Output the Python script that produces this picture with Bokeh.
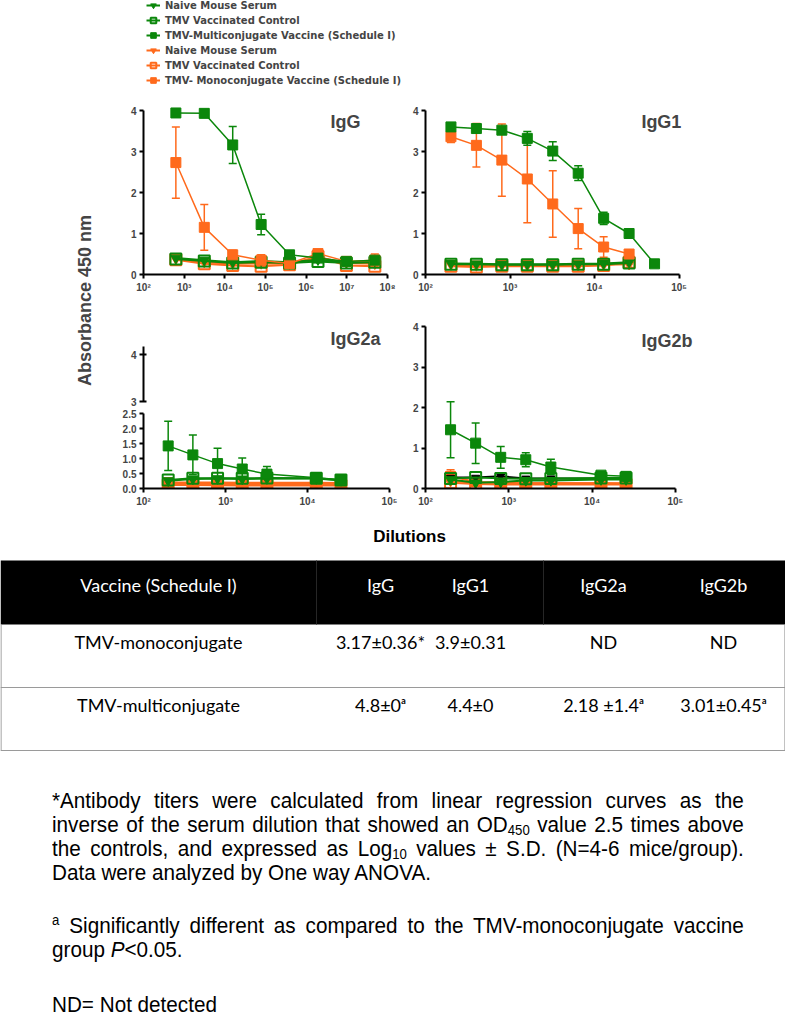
from math import pi, log10
from bokeh.plotting import figure
from bokeh.models import (ColumnDataSource, Range1d, FixedTicker, Whisker, TeeHead, Legend,
                          LegendItem, Label, Div, CustomJSTickFormatter, PrintfTickFormatter)
from bokeh.layouts import column, row
from bokeh.embed import file_html
from bokeh.resources import INLINE
from bokeh.core.properties import value

GREEN = "#0B870B"
ORANGE = "#FF6A1C"
BLACK = "#000000"
AXF = "Liberation Sans"
TABF = "Lato"
NAN = float("nan")

# ---------------- data ----------------
# IgG (5-fold dilutions)
igg_dil = [625, 3125, 15625, 78125, 390625, 1953125, 9765625, 48828125]
igg_multi = [3.94, 3.93, 3.16, 1.22, 0.48, 0.40, 0.32, 0.35]
igg_multi_sd = [0.02, 0.02, 0.45, 0.25, 0.06, 0.05, 0.05, 0.06]
igg_mono = [2.73, 1.15, 0.48, 0.35, 0.27, 0.51, 0.32, 0.35]
igg_mono_sd = [0.87, 0.56, 0.11, 0.13, 0.05, 0.10, 0.06, 0.15]
igg_multi_naive = [0.40, 0.35, 0.30, 0.33, 0.30, 0.36, 0.30, 0.33]
igg_multi_tmv = [0.38, 0.33, 0.28, 0.30, 0.28, 0.32, 0.28, 0.30]
igg_mono_naive = [0.38, 0.30, 0.26, 0.27, 0.26, 0.42, 0.28, 0.26]
igg_mono_tmv = [0.36, 0.26, 0.22, 0.20, 0.24, 0.44, 0.22, 0.20]

# IgG1 (2-fold dilutions)
igg1_dil = [200, 400, 800, 1600, 3200, 6400, 12800, 25600, 51200]
igg1_multi = [3.60, 3.56, 3.52, 3.32, 3.01, 2.47, 1.37, 1.00, 0.26]
igg1_multi_sd = [0.03, 0.04, 0.08, 0.17, 0.23, 0.18, 0.15, 0.05, 0.03]
igg1_mono = [3.36, 3.15, 2.79, 2.33, 1.72, 1.12, 0.67, 0.50]
igg1_mono_sd = [0.14, 0.53, 0.88, 1.07, 0.81, 0.49, 0.25, 0.10]
igg1_multi_naive = [0.27, 0.26, 0.25, 0.25, 0.25, 0.26, 0.27, 0.30]
igg1_multi_tmv = [0.25, 0.25, 0.24, 0.24, 0.24, 0.25, 0.25, 0.28]
igg1_mono_naive = [0.24, 0.22, 0.22, 0.22, 0.22, 0.22, 0.24, 0.25]
igg1_mono_tmv = [0.20, 0.18, 0.20, 0.20, 0.20, 0.20, 0.22, 0.30]

# IgG2a / IgG2b
igg2_dil = [200, 400, 800, 1600, 3200, 12800, 25600]
igg2a_multi = [1.42, 1.12, 0.83, 0.65, 0.48, 0.36, 0.29]
igg2a_multi_sd = [0.82, 0.66, 0.51, 0.37, 0.25, 0.04, 0.03]
igg2a_multi_naive = [0.26, 0.32, 0.33, 0.32, 0.33, 0.33, 0.27]
igg2a_multi_tmv = [0.28, 0.34, 0.34, 0.34, 0.35, 0.34, 0.28]
igg2a_mono = [0.20, 0.20, 0.20, 0.19, 0.19, 0.19, 0.18]
igg2a_mono_naive = [0.17, 0.16, 0.15, 0.15, 0.15, 0.15, 0.15]
igg2a_mono_tmv = [0.12, 0.12, 0.11, 0.10, 0.10, 0.10, 0.10]

igg2b_multi = [1.45, 1.12, 0.77, 0.71, 0.53, 0.33, 0.30]
igg2b_multi_sd = [0.69, 0.50, 0.27, 0.17, 0.19, 0.05, 0.04]
igg2b_multi_naive = [0.22, 0.14, 0.16, 0.20, 0.20, 0.22, 0.22]
igg2b_multi_tmv = [0.25, 0.27, 0.25, 0.24, 0.25, 0.26, 0.26]
igg2b_mono = [0.30, 0.16, 0.14, 0.13, 0.13, 0.13, 0.12]
igg2b_mono_sd = [0.16, 0.03, 0.03, 0.03, 0.03, 0.02, 0.02]
igg2b_mono_naive = [0.18, 0.15, 0.14, 0.13, 0.13, 0.13, 0.13]
igg2b_mono_tmv = [0.14, 0.11, 0.10, 0.10, 0.10, 0.10, 0.10]
igg2b_other = [0.27, 0.27, 0.30, 0.25, 0.25, 0.24, 0.24]

legend_labels = ["Naive Mouse Serum", "TMV Vaccinated Control",
                 "TMV-Multiconjugate Vaccine (Schedule I)",
                 "Naive Mouse Serum", "TMV Vaccinated Control",
                 "TMV- Monoconjugate Vaccine (Schedule I)"]

table_head = ["Vaccine (Schedule I)", "IgG", "IgG1", "IgG2a", "IgG2b"]
table_mono = ["TMV-monoconjugate", "3.17\u00b10.36*", "3.9\u00b10.31", "ND", "ND"]
table_multi = ["TMV-multiconjugate", "4.8\u00b10\u1d43", "4.4\u00b10", "2.18 \u00b11.4\u1d43", "3.01\u00b10.45\u1d43"]

# ---------------- helpers ----------------
SUP = CustomJSTickFormatter(code="""
const s = {"0":"\u2070","1":"\u00b9","2":"\u00b2","3":"\u00b3","4":"\u2074","5":"\u2075","6":"\u2076","7":"\u2077","8":"\u2078","9":"\u2079"};
const e = Math.round(Math.log10(tick));
return "10" + String(e).split("").map(c => s[c]).join("");
""")


def style_axis(ax):
    ax.axis_line_width = 2
    ax.axis_line_color = BLACK
    ax.major_tick_line_width = 2
    ax.major_tick_in = 0
    ax.major_tick_out = 4
    ax.minor_tick_line_color = None
    ax.major_label_text_font = AXF
    ax.major_label_text_font_style = "bold"
    ax.major_label_text_font_size = "10px"
    ax.major_label_standoff = 3


def panel(width, height, xr, yr, bl, br, bt, bb, xaxis=True, xbounds=None):
    p = figure(width=width, height=height, x_axis_type="log",
               x_range=Range1d(*xr), y_range=Range1d(*yr),
               toolbar_location=None, output_backend="svg",
               min_border_left=bl, min_border_right=br,
               min_border_top=bt, min_border_bottom=bb,
               x_axis_location="below" if xaxis else None)
    p.grid.visible = False
    p.outline_line_color = None
    for ax in p.axis:
        style_axis(ax)
    if xaxis:
        lo, hi = xbounds if xbounds else xr
        p.xaxis.formatter = SUP
        p.xaxis.bounds = (lo, hi)
        k0, k1 = int(round(log10(lo))), int(round(log10(hi)))
        p.xaxis.ticker = FixedTicker(ticks=[10.0 ** k for k in range(k0, k1 + 1)], minor_ticks=[])
    return p


def series(p, x, y, color, marker, filled, sd=None, lw=1.5, size=10):
    d = dict(x=list(x[:len(y)]), y=list(y))
    if sd is not None:
        d["lo"] = [a - b for a, b in zip(y, sd)]
        d["hi"] = [a + b for a, b in zip(y, sd)]
    src = ColumnDataSource(d)
    if sd is not None:
        w = Whisker(source=src, base="x", lower="lo", upper="hi",
                    line_color=color, line_width=1.5,
                    lower_head=TeeHead(size=8, line_color=color, line_width=1.5),
                    upper_head=TeeHead(size=8, line_color=color, line_width=1.5))
        p.add_layout(w)
    p.line("x", "y", source=src, line_color=color, line_width=lw)
    if filled:
        p.scatter("x", "y", source=src, marker=marker, size=size,
                  line_color=color, fill_color=color, line_width=1)
    else:
        p.scatter("x", "y", source=src, marker=marker, size=size + 1,
                  line_color=color, fill_color=None, line_width=2)


def title(p, text, x, y):
    p.add_layout(Label(x=x, y=y, text=text, text_align="center", text_baseline="middle",
                       text_font=AXF, text_font_style="bold", text_font_size="18px"))


# ---------------- legend ----------------
lf = figure(width=785, height=96, x_range=Range1d(0, 1), y_range=Range1d(0, 1),
            toolbar_location=None, output_backend="svg", min_border=0,
            x_axis_location=None, y_axis_location=None)
lf.grid.visible = False
lf.outline_line_color = None
spec = [(GREEN, "inverted_triangle", True), (GREEN, "square", False), (GREEN, "square", True),
        (ORANGE, "inverted_triangle", True), (ORANGE, "square", False), (ORANGE, "square", True)]
items = []
for lab, (c, m, f) in zip(legend_labels, spec):
    src = ColumnDataSource(dict(x=[NAN], y=[NAN]))
    rl = lf.line("x", "y", source=src, line_color=c, line_width=2)
    if f:
        rm = lf.scatter("x", "y", source=src, marker=m, size=9, line_color=c, fill_color=c)
    else:
        rm = lf.scatter("x", "y", source=src, marker=m, size=9, line_color=c, fill_color=None, line_width=2)
    items.append(LegendItem(label=lab, renderers=[rl, rm]))
leg = Legend(items=items, location=(146, 9), orientation="vertical",
             glyph_width=14, glyph_height=14, label_height=14, spacing=1,
             padding=0, margin=0, border_line_color=None, background_fill_alpha=0,
             label_text_font="DejaVu Sans", label_text_font_style="bold",
             label_text_font_size="10px", label_standoff=5)
lf.add_layout(leg)

# ---------------- panels ----------------
# IgG
p1 = panel(300, 204, (1e2, 1e8), (0, 170 / 41), 43, 13, 8, 26)
p1.yaxis.ticker = FixedTicker(ticks=[0, 1, 2, 3, 4], minor_ticks=[])
p1.yaxis.bounds = (0, 4)
series(p1, igg_dil, igg_mono_tmv, ORANGE, "square", False, lw=2)
series(p1, igg_dil, igg_mono_naive, ORANGE, "inverted_triangle", True, lw=2)
series(p1, igg_dil, igg_multi_tmv, GREEN, "square", False, lw=2)
series(p1, igg_dil, igg_multi_naive, GREEN, "inverted_triangle", True, lw=2)
series(p1, igg_dil, igg_mono, ORANGE, "square", True, sd=igg_mono_sd)
series(p1, igg_dil, igg_multi, GREEN, "square", True, sd=igg_multi_sd)
title(p1, "IgG", 10 ** 6.97, 3.71)

# IgG1 (frame extended right of 10^5 so the panel title fits)
p2 = panel(385, 204, (1e2, 10 ** 5.3), (0, 170 / 41), 25, 81, 8, 26, xbounds=(1e2, 1e5))
p2.yaxis.ticker = FixedTicker(ticks=[0, 1, 2, 3, 4], minor_ticks=[])
p2.yaxis.bounds = (0, 4)
series(p2, igg1_dil, igg1_mono_tmv, ORANGE, "square", False, lw=2)
series(p2, igg1_dil, igg1_mono_naive, ORANGE, "inverted_triangle", True, lw=2)
series(p2, igg1_dil, igg1_multi_tmv, GREEN, "square", False, lw=2)
series(p2, igg1_dil, igg1_multi_naive, GREEN, "inverted_triangle", True, lw=2)
series(p2, igg1_dil, igg1_mono, ORANGE, "square", True, sd=igg1_mono_sd)
series(p2, igg1_dil, igg1_multi, GREEN, "square", True, sd=igg1_multi_sd)
title(p2, "IgG1", 10 ** 4.79, 3.71)

# IgG2a (broken axis: upper 3-4 part and lower 0-2.5 part)
p3t = panel(300, 108, (1e2, 1e5), (3 - 7 / 47, 3 + 75 / 47), 43, 11, 26, 0, xaxis=False)
p3t.yaxis.ticker = FixedTicker(ticks=[3, 4], minor_ticks=[])
p3t.yaxis.bounds = (3, 3 + 55 / 47)
p3t.yaxis.major_tick_in = 3
title(p3t, "IgG2a", 10 ** 4.585, 4.32)

p3b = panel(300, 102, (1e2, 1e5), (0, 80 / 30), 43, 11, 0, 22)
p3b.yaxis.ticker = FixedTicker(ticks=[0, 0.5, 1, 1.5, 2, 2.5], minor_ticks=[])
p3b.yaxis.formatter = PrintfTickFormatter(format="%.1f")
p3b.yaxis.bounds = (0, 2.5)
series(p3b, igg2_dil, igg2a_mono_tmv, ORANGE, "square", False, lw=2)
series(p3b, igg2_dil, igg2a_mono_naive, ORANGE, "inverted_triangle", True, lw=2)
series(p3b, igg2_dil, igg2a_mono, ORANGE, "square", True, lw=2)
series(p3b, igg2_dil, igg2a_multi_naive, GREEN, "inverted_triangle", True, lw=2)
series(p3b, igg2_dil, igg2a_multi_tmv, GREEN, "square", False, lw=2)
series(p3b, igg2_dil, igg2a_multi, GREEN, "square", True, sd=igg2a_multi_sd)

# IgG2b
p4 = panel(385, 210, (1e2, 10 ** 5.35), (0, 4), 25, 81, 26, 22, xbounds=(1e2, 1e5))
p4.yaxis.ticker = FixedTicker(ticks=[0, 1, 2, 3, 4], minor_ticks=[])
series(p4, igg2_dil, igg2b_mono_tmv, ORANGE, "square", False, lw=2)
series(p4, igg2_dil, igg2b_mono_naive, ORANGE, "inverted_triangle", True, lw=2)
series(p4, igg2_dil, igg2b_mono, ORANGE, "square", True, sd=igg2b_mono_sd, lw=2)
series(p4, igg2_dil, igg2b_other, BLACK, "inverted_triangle", True, lw=2, size=8)
series(p4, igg2_dil, igg2b_multi_tmv, GREEN, "square", False, lw=2)
series(p4, igg2_dil, igg2b_multi_naive, GREEN, "inverted_triangle", True, lw=2)
series(p4, igg2_dil, igg2b_multi, GREEN, "square", True, sd=igg2b_multi_sd)
title(p4, "IgG2b", 10 ** 4.90, 3.65)

# y label column
yl = figure(width=100, height=414, x_range=Range1d(0, 100), y_range=Range1d(0, 414),
            toolbar_location=None, output_backend="svg", min_border=0,
            x_axis_location=None, y_axis_location=None)
yl.grid.visible = False
yl.outline_line_color = None
yl.add_layout(Label(x=84, y=210, text="Absorbance 450 nm", angle=pi / 2,
                    text_align="center", text_baseline="middle", text_font=AXF,
                    text_font_style="bold", text_font_size="18px"))

# ---------------- x label + table ----------------
tb = figure(width=785, height=260, x_range=Range1d(0, 785), y_range=Range1d(260, 0),
            toolbar_location=None, output_backend="svg", min_border=0,
            x_axis_location=None, y_axis_location=None)
tb.grid.visible = False
tb.outline_line_color = None
tb.text(x=[409], y=[26], text=["Dilutions"], text_font=value(AXF), text_font_style="bold",
        text_font_size="17px", text_align="center", text_baseline="middle")
tb.quad(left=[0], right=[785], top=[50], bottom=[114], fill_color=BLACK, line_color=None)
tb.segment(x0=[316, 543], y0=[50, 50], x1=[316, 543], y1=[114, 114], line_color="#262626", line_width=1)
tb.segment(x0=[0, 0, 0.5, 784.5], y0=[177, 240, 114, 114], x1=[785, 785, 0.5, 784.5], y1=[177, 240, 240, 240],
           line_color="#9a9a9a", line_width=1.2)
col_x = [158, 380, 470, 603, 723]
tb.text(x=col_x, y=[74] * 5, text=table_head, text_font=value(TABF), text_font_size="18px",
        text_color="white", text_align="center", text_baseline="middle")
tb.text(x=col_x, y=[131] * 5, text=table_mono, text_font=value(TABF), text_font_size="18px",
        text_color=BLACK, text_align="center", text_baseline="middle")
tb.text(x=col_x, y=[194] * 5, text=table_multi, text_font=value(TABF), text_font_size="18px",
        text_color=BLACK, text_align="center", text_baseline="middle")

# ---------------- footnotes ----------------
J = "text-align:justify;text-align-last:justify;"
L = "text-align:left;"
SUB = '<sub style="font-size:14px;line-height:0;vertical-align:-3px">'
foot = f"""
<div style="padding:14px 0 0 47px;">
<div style="font-family:'Liberation Sans',Arial,sans-serif;font-size:22px;line-height:24px;color:#000;width:736px;transform:scaleX(0.94);transform-origin:0 0;">
<div style="{J}">*Antibody titers were calculated from linear regression curves as the</div>
<div style="{J}">inverse of the serum dilution that showed an OD{SUB}450</sub> value 2.5 times above</div>
<div style="{J}">the controls, and expressed as Log{SUB}10</sub> values \u00b1 S.D. (N=4-6 mice/group).</div>
<div style="{L}">Data were analyzed by One way ANOVA.</div>
<div style="{J}margin-top:29px"><sup style="font-size:14px;line-height:0">a</sup> Significantly different as compared to the TMV-monoconjugate vaccine</div>
<div style="{L}">group <i>P</i>&lt;0.05.</div>
<div style="{L}margin-top:31px">ND= Not detected</div>
</div></div>
"""
fd = Div(text=foot, width=785, height=250, styles={"overflow": "hidden"})

layout = column(
    lf,
    row(yl, column(row(p1, p2, spacing=0), row(column(p3t, p3b, spacing=0), p4, spacing=0), spacing=0), spacing=0),
    tb,
    fd,
    spacing=0,
)

open("out.html", "w").write(file_html(layout, INLINE))
